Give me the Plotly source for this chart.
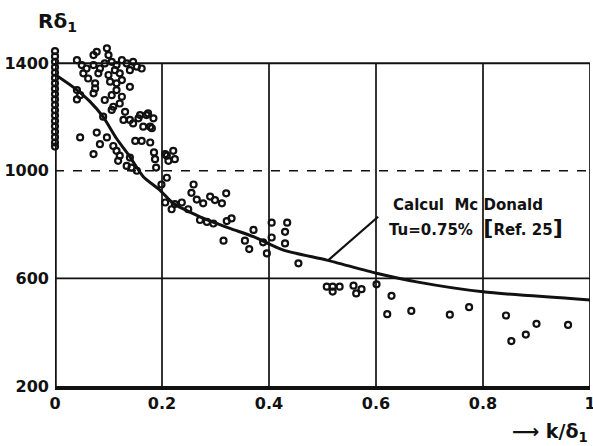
import plotly.graph_objects as go

# Measured points: Reynolds number R_delta1 against relative roughness k/delta1
wall_x = [0.0] * 19
wall_y = [1445, 1425, 1405, 1385, 1365, 1345, 1325, 1305, 1285, 1265,
          1245, 1225, 1205, 1185, 1165, 1145, 1125, 1105, 1090]

meas_x = [0.072, 0.078, 0.097, 0.100,
          0.041, 0.050, 0.059, 0.072, 0.084, 0.093, 0.106, 0.115, 0.125, 0.134, 0.146, 0.153, 0.162,
          0.053, 0.062, 0.081, 0.100, 0.112, 0.121, 0.140,
          0.103, 0.115, 0.125, 0.140,
          0.075, 0.075, 0.072,
          0.041, 0.047, 0.041,
          0.093, 0.106, 0.115, 0.125,
          0.109, 0.121, 0.131, 0.128, 0.106, 0.090,
          0.140, 0.146, 0.156, 0.171, 0.184, 0.165, 0.178, 0.159, 0.174, 0.181,
          0.047, 0.078, 0.097, 0.084, 0.109, 0.072, 0.115, 0.121, 0.118, 0.140, 0.134, 0.143, 0.153,
          0.150, 0.162, 0.178,
          0.185, 0.187, 0.189, 0.209, 0.212, 0.221, 0.224, 0.206,
          0.199, 0.209,
          0.206, 0.218, 0.224, 0.237, 0.249,
          0.259, 0.255, 0.265, 0.277, 0.290, 0.299, 0.312, 0.320,
          0.271, 0.284, 0.296, 0.321, 0.330,
          0.315, 0.355, 0.363, 0.371, 0.389, 0.396, 0.405, 0.405, 0.430, 0.434, 0.430, 0.455,
          0.508, 0.519, 0.519, 0.532, 0.558, 0.563, 0.573, 0.601, 0.629,
          0.621, 0.666, 0.738, 0.774, 0.843, 0.853, 0.880, 0.900, 0.959]
meas_y = [1430, 1442, 1455, 1430,
          1411, 1393, 1380, 1393, 1380, 1399, 1405, 1393, 1411, 1399, 1405, 1387, 1380,
          1362, 1343, 1362, 1356, 1374, 1362, 1374,
          1331, 1325, 1337, 1312,
          1325, 1306, 1288,
          1300, 1281, 1265,
          1263, 1281, 1300, 1275,
          1238, 1250, 1219, 1189, 1226, 1201,
          1189, 1176, 1195, 1207, 1195, 1164, 1164, 1207, 1213, 1158,
          1124, 1142, 1124, 1099, 1092, 1062, 1074, 1056, 1037, 1049, 1018, 1012, 1000,
          1111, 1111, 1105,
          1068, 1043, 1012, 1056, 1037, 1074, 1043, 1062,
          949, 974,
          882, 857, 876, 882, 857,
          949, 918, 893, 879, 904, 891, 879, 916,
          817, 810, 804, 813, 823,
          740, 740, 709, 780, 734, 693, 807, 752, 773, 807, 730, 656,
          569, 569, 551, 569, 573, 544, 560, 578, 535,
          467, 479, 465, 493, 462, 367, 391, 431, 427]

# McDonald computation, Tu = 0.75 %
calc_x = [0.0, 0.034, 0.065, 0.09, 0.115, 0.14, 0.165, 0.196, 0.221, 0.271,
          0.327, 0.371, 0.427, 0.508, 0.601, 0.676, 0.8, 1.0]
calc_y = [1358, 1311, 1258, 1200, 1120, 1052, 978, 928, 879, 829,
          786, 755, 705, 668, 619, 587, 550, 520]

x_ticks = [0, 0.2, 0.4, 0.6, 0.8, 1.0]
x_ticktext = ["0", "0.2", "0.4", "0.6", "0.8", "1"]
y_ticks = [200, 600, 1000, 1400]
y_ticktext = ["200", "600", "1000", "1400"]
grid_x = [0.2, 0.4, 0.6, 0.8, 1.0]

ink = "#111111"
marker = dict(symbol="circle-open", size=6, color=ink, line=dict(width=2.2, color=ink))

fig = go.Figure()
fig.add_trace(go.Scatter(x=calc_x, y=calc_y, mode="lines",
                         line=dict(color=ink, width=3, shape="spline", smoothing=0.6),
                         hoverinfo="skip"))
fig.add_trace(go.Scatter(x=wall_x, y=wall_y, mode="markers", marker=marker, cliponaxis=False))
fig.add_trace(go.Scatter(x=meas_x, y=meas_y, mode="markers", marker=marker, cliponaxis=False))

# frame and grid, bounded by the 1400 line
for gx in grid_x:
    fig.add_shape(type="line", xref="x", yref="y", x0=gx, x1=gx, y0=200, y1=1400,
                  line=dict(color=ink, width=1.7), layer="below")
fig.add_shape(type="line", xref="x", yref="y", x0=0, x1=0, y0=200, y1=1420,
              line=dict(color=ink, width=3.5), layer="below")
fig.add_shape(type="line", xref="x", yref="y", x0=0, x1=1, y0=1400, y1=1400,
              line=dict(color=ink, width=2), layer="below")
fig.add_shape(type="line", xref="x", yref="y", x0=0, x1=1, y0=1000, y1=1000,
              line=dict(color=ink, width=1.5, dash="dash"), layer="below")
fig.add_shape(type="line", xref="x", yref="y", x0=0, x1=1, y0=600, y1=600,
              line=dict(color=ink, width=1.8), layer="below")

# leader from the curve to its label
fig.add_shape(type="line", xref="x", yref="y", x0=0.511, y0=668, x1=0.604, y1=829,
              line=dict(color=ink, width=2.2))

fig.add_annotation(x=0.772, y=872, xref="x", yref="y", text="Calcul  Mc Donald",
                   showarrow=False, font=dict(family="DejaVu Sans", size=15, color=ink, weight="bold"))
fig.add_annotation(x=0.786, y=790, xref="x", yref="y",
                   text="Tu=0.75%  <span style='font-size:22px'>[</span>Ref. 25<span style='font-size:22px'>]</span>",
                   showarrow=False, font=dict(family="DejaVu Sans", size=15, color=ink, weight="bold"))

fig.add_annotation(x=-0.035, y=1.075, xref="paper", yref="paper", xanchor="left", yanchor="middle",
                   text="Rδ<sub>1</sub>", showarrow=False,
                   font=dict(family="DejaVu Sans", size=20, color=ink, weight="bold"))
fig.add_annotation(x=1.0, y=-0.138, xref="paper", yref="paper", xanchor="right", yanchor="middle",
                   text="⟶ k/δ<sub>1</sub>", showarrow=False,
                   font=dict(family="DejaVu Sans", size=19, color=ink, weight="bold"))

tickfont = dict(family="DejaVu Sans", size=16, color=ink, weight="bold")
fig.update_layout(
    width=593, height=446,
    margin=dict(l=55, r=3, t=47, b=60, autoexpand=False),
    paper_bgcolor="white", plot_bgcolor="white",
    showlegend=False,
    xaxis=dict(range=[0, 1], tickvals=x_ticks, ticktext=x_ticktext, tickfont=tickfont,
               showgrid=False, zeroline=False, ticklabeloverflow="allow", automargin=False,
               showline=True, linecolor=ink, linewidth=3.5, ticks="", ticklabelstandoff=0),
    yaxis=dict(range=[200, 1460], tickvals=y_ticks, ticktext=y_ticktext, tickfont=tickfont,
               showgrid=False, zeroline=False, automargin=False,
               showline=False, ticks="", ticklabelstandoff=5),
)

fig.write_html("out.html")
